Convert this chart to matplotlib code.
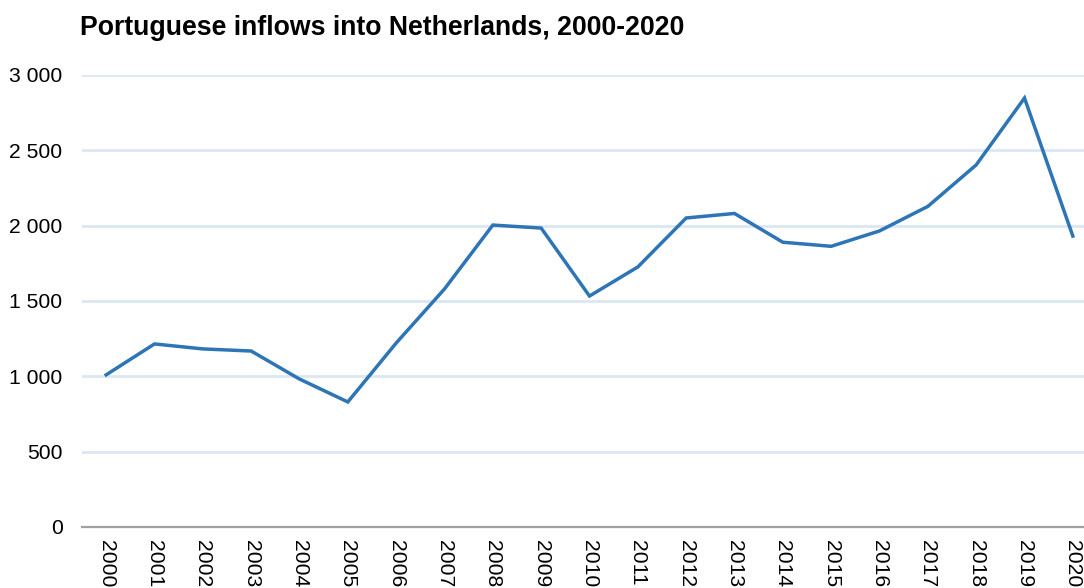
import matplotlib
matplotlib.use('Agg')
import matplotlib.pyplot as plt
from matplotlib.ticker import FuncFormatter

plt.rcParams['font.family'] = ['Liberation Sans', 'DejaVu Sans']

# datos
years = [str(y) for y in range(2000, 2021)]
inflows = [1010, 1215, 1182, 1168, 982, 830, 1221, 1580, 2004, 1984, 1533,
           1726, 2051, 2081, 1890, 1863, 1965, 2128, 2403, 2847, 1931]
yticks = [0, 500, 1000, 1500, 2000, 2500, 3000]

W, H = 1084, 588
fig = plt.figure(figsize=(W / 100, H / 100), dpi=100)
# el area del grafico sale un poco por la derecha, como en el original
left, right, top, bottom = 82, 1097, 75, 527
ax = fig.add_axes([left / W, 1 - bottom / H, (right - left) / W, (bottom - top) / H])

x = list(range(len(years)))
ax.plot(x, inflows, color='#2E75B6', linewidth=2.5, solid_joinstyle='miter')

ax.set_xlim(-0.5, len(years) - 0.5)
ax.set_ylim(0, 3000)
ax.set_yticks(yticks)
ax.yaxis.set_major_formatter(FuncFormatter(lambda v, p: f'{int(v):,}'.replace(',', ' ')))
ax.set_xticks(x)
ax.set_xticklabels(years, rotation=-90, va='top', ha='center')

ax.grid(axis='y', color='#DCE7F4', linewidth=2)
ax.set_axisbelow(True)
for s in ['top', 'right', 'left']:
    ax.spines[s].set_visible(False)
ax.spines['bottom'].set_color('#A0A0A0')
ax.spines['bottom'].set_linewidth(1.6)
ax.tick_params(axis='both', length=0, labelsize=15.2, colors='black')
ax.tick_params(axis='y', pad=14)
ax.tick_params(axis='x', pad=9)

fig.text(80 / W, 1 - 28 / H, 'Portuguese inflows into Netherlands, 2000-2020',
         fontsize=19.2, fontweight='bold', va='center', ha='left')

fig.savefig('out.png', dpi=100)
